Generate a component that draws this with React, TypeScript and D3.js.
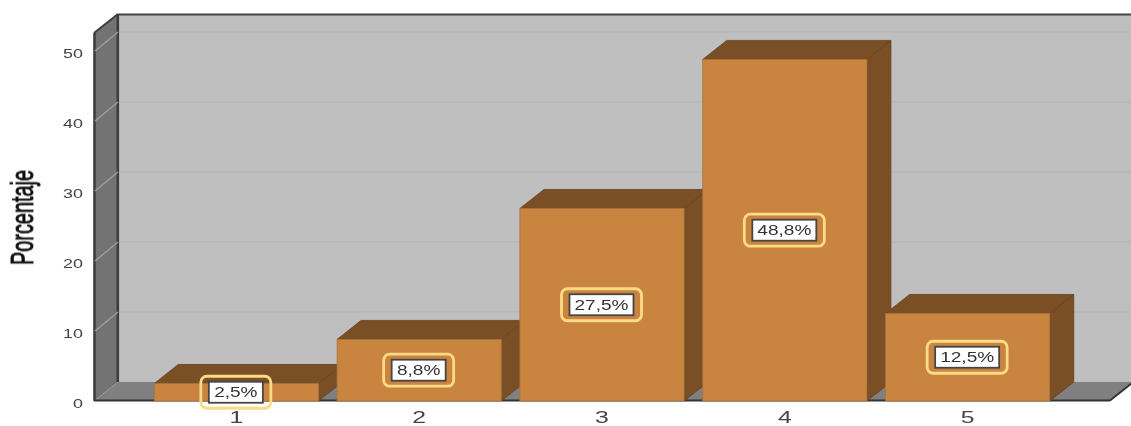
import React from "react";
import * as d3 from "d3";

const categories = ["1", "2", "3", "4", "5"];
const values = [2.5, 8.8, 27.5, 48.8, 12.5];
const labels = ["2,5%", "8,8%", "27,5%", "48,8%", "12,5%"];
const yTicks = [0, 10, 20, 30, 40, 50];
const yMax = 52.57;

const W = 1131, H = 426;
const dx = 24, dy = 19;
const x0 = 94, x1 = 1110, y0 = 401;
const x = d3.scaleBand().domain(categories).range([93, 1111]).paddingInner(0.102).paddingOuter(0.335);
const y = d3.scaleLinear().domain([0, yMax]).range([y0, 33]);
const poly = (p: number[][]) => "M" + p.map(a => a.join(",")).join("L") + "Z";

const App = () => {
  const top = y(yMax);
  const wallDark = "#3e3e3e";
  return (
    <svg width={W} height={H} style={{ position: "absolute", left: 0, top: 0, background: "#fff" }}>
      <defs>
        <filter id="soft" x="-5%" y="-5%" width="110%" height="110%">
          <feGaussianBlur stdDeviation="0.6" />
        </filter>
      </defs>
      <g filter="url(#soft)">
        <rect x={x0 + dx} y={top - dy} width={W - x0 - dx + 4} height={y0 - top} fill="#bfbfbf" />
        <line x1={x0 + dx} x2={W + 4} y1={top - dy + 0.5} y2={top - dy + 0.5} stroke="#444" strokeWidth={1.8} />
        <path d={poly([[x0, top], [x0 + dx, top - dy], [x0 + dx, y0 - dy], [x0, y0]])} fill="#737373" />
        <path d={poly([[x0, y0], [x0 + dx, y0 - dy], [x1 + dx, y0 - dy], [x1, y0]])} fill="#808080" />
        <path d={`M${x1},${y0 - 0.5}L${x1 + dx},${y0 - dy - 0.5}`} stroke="#333" strokeWidth={1.8} fill="none" />
        <line x1={x0} x2={x1} y1={y0 - 0.5} y2={y0 - 0.5} stroke="#333" strokeWidth={1.8} />
        <line x1={x0 + 0.5} x2={x0 + 0.5} y1={top} y2={y0} stroke={wallDark} strokeWidth={2.6} />
        <line x1={x0 + dx - 0.2} x2={x0 + dx - 0.2} y1={top - dy} y2={y0 - dy} stroke={wallDark} strokeWidth={2.6} />
        <line x1={x0} x2={x0 + dx} y1={top} y2={top - dy} stroke={wallDark} strokeWidth={2} />
        {yTicks.filter(t => t > 0).map(t => (
          <g key={t}>
            <line x1={x0 + dx + 1} x2={W + 4} y1={y(t) - dy} y2={y(t) - dy} stroke="#b3b3b3" strokeWidth={1.2} />
            <line x1={x0 + 1} x2={x0 + dx} y1={y(t)} y2={y(t) - dy} stroke="#a0a0a0" strokeWidth={1.3} />
          </g>
        ))}
        {categories.map((c, i) => {
          const l = x(c)!, r = l + x.bandwidth(), t = y(values[i]);
          return (
            <g key={c}>
              <path d={poly([[r, t], [r + dx, t - dy], [r + dx, y0 - dy], [r, y0]])} fill="#7a5027" stroke="#644120" strokeWidth={0.8} />
              <path d={poly([[l, t], [l + dx, t - dy], [r + dx, t - dy], [r, t]])} fill="#7a5027" stroke="#644120" strokeWidth={0.8} />
              <rect x={l} y={t} width={x.bandwidth()} height={y0 - t} fill="#c9843f" stroke="#a5743f" strokeWidth={0.8} />
            </g>
          );
        })}
        {yTicks.map(t => (
          <text key={t} textAnchor="end" fontFamily="Liberation Sans" fontSize={13} fill="#444"
            transform={`translate(${x0 - 11},${y(t) + 6.7}) scale(1.38,1)`}>{t}</text>
        ))}
        {categories.map(c => (
          <text key={c} textAnchor="middle" fontFamily="Liberation Sans" fontSize={16} fill="#444"
            transform={`translate(${x(c)! + x.bandwidth() / 2},${y0 + 21.5}) scale(1.55,1)`}>{c}</text>
        ))}
        <text textAnchor="middle" fontFamily="Liberation Sans" fontSize={31} fill="#111" stroke="#111" strokeWidth={0.9}
          transform="translate(33,217.5) rotate(-90) scale(0.64,1)">Porcentaje</text>
        {categories.map((c, i) => {
          const cx = x(c)! + x.bandwidth() / 2 - 0.5;
          const cy = (y(values[i]) + y0) / 2;
          const hw = labels[i].length > 4 ? 32 : 27;
          return (
            <g key={c}>
              <rect x={cx - hw - 8} y={cy - 16} width={2 * hw + 16} height={32} rx={6} fill="none" stroke="#fbdc85" strokeWidth={2.8} />
              <rect x={cx - hw} y={cy - 10.5} width={2 * hw} height={21} fill="#fff" stroke="#444" strokeWidth={1.8} />
              <text textAnchor="middle" fontFamily="Liberation Sans" fontSize={14} fill="#333"
                transform={`translate(${cx},${cy + 5}) scale(1.36,1)`}>{labels[i]}</text>
            </g>
          );
        })}
      </g>
    </svg>
  );
};

export default App;
